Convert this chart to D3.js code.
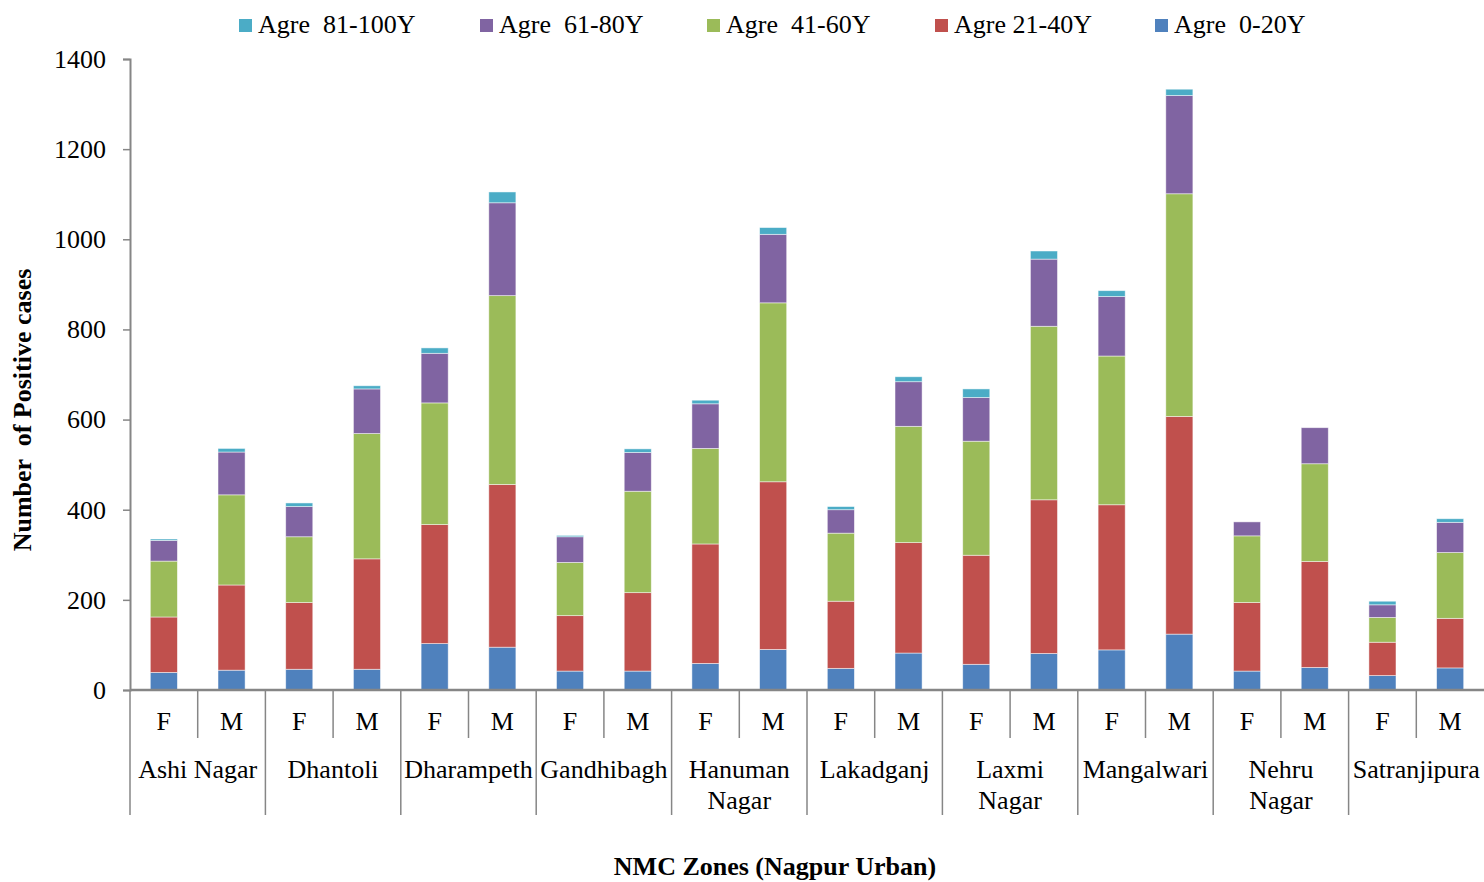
<!DOCTYPE html>
<html>
<head>
<meta charset="utf-8">
<script src="https://cdn.jsdelivr.net/npm/d3@7"></script>
<style>
  body { margin: 0; background: #fff; }
  text { font-family: "Liberation Serif", "Times New Roman", serif; fill: #000; }
</style>
</head>
<body>
<div id="chart"></div>
<script>
// zones, each split into F and M
var zones = ["Ashi Nagar", "Dhantoli", "Dharampeth", "Gandhibagh", "Hanuman Nagar",
  "Lakadganj", "Laxmi Nagar", "Mangalwari", "Nehru Nagar", "Satranjipura"];
var zoneLines = [["Ashi Nagar"], ["Dhantoli"], ["Dharampeth"], ["Gandhibagh"], ["Hanuman", "Nagar"],
  ["Lakadganj"], ["Laxmi", "Nagar"], ["Mangalwari"], ["Nehru", "Nagar"], ["Satranjipura"]];
var sexes = ["F", "M"];

// values per bar (F, M for each zone, in order)
var age0_20   = [39, 44, 46, 46, 103, 95, 42, 42, 59, 90, 48, 82, 57, 81, 89, 124, 42, 50, 32, 49];
var age21_40  = [123, 189, 148, 245, 264, 361, 123, 174, 265, 372, 149, 245, 242, 341, 322, 483, 152, 235, 74, 110];
var age41_60  = [124, 200, 146, 278, 270, 419, 118, 225, 212, 397, 151, 258, 253, 385, 330, 494, 148, 217, 55, 146];
var age61_80  = [46, 95, 67, 99, 110, 206, 57, 86, 99, 152, 52, 99, 97, 149, 132, 218, 31, 80, 28, 67];
var age81_100 = [3, 8, 8, 7, 12, 24, 3, 8, 8, 15, 7, 11, 19, 18, 13, 14, 0, 0, 8, 8];

var seriesKeys = ["a0", "a21", "a41", "a61", "a81"];
var seriesNames = {a0: "Agre  0-20Y", a21: "Agre 21-40Y", a41: "Agre  41-60Y", a61: "Agre  61-80Y", a81: "Agre  81-100Y"};
var legendOrder = ["a81", "a61", "a41", "a21", "a0"];
var yTicks = [0, 200, 400, 600, 800, 1000, 1200, 1400];

var colors = {a0: "#4F81BD", a21: "#C0504D", a41: "#9BBB59", a61: "#8064A2", a81: "#4BACC6"};

var svgW = 1484, svgH = 882;
var plotLeft = 130, plotRight = 1484, plotTop = 59, plotBottom = 690;

// build table
var data = [];
zones.forEach(function (z, zi) {
  sexes.forEach(function (s, si) {
    var i = zi * 2 + si;
    data.push({id: i, zone: z, sex: s, a0: age0_20[i], a21: age21_40[i], a41: age41_60[i], a61: age61_80[i], a81: age81_100[i]});
  });
});

var svg = d3.select("#chart").append("svg")
  .attr("width", svgW)
  .attr("height", svgH);

var xScale = d3.scaleBand()
  .domain(data.map(function (d) { return d.id; }))
  .range([plotLeft, plotRight])
  .paddingInner(0.6)
  .paddingOuter(0.3);

var yScale = d3.scaleLinear().domain([0, 1400]).range([plotBottom, plotTop]);

var stacked = d3.stack().keys(seriesKeys)(data);

// bars
svg.selectAll(".layer")
  .data(stacked)
  .enter().append("g")
  .attr("class", "layer")
  .attr("fill", function (d) { return colors[d.key]; })
  .selectAll("rect")
  .data(function (d) { return d.filter(function (p) { return p[1] > p[0]; }); })
  .enter().append("rect")
  .attr("x", function (d) { return xScale(d.data.id); })
  .attr("width", xScale.bandwidth())
  .attr("y", function (d) { return yScale(d[1]); })
  .attr("height", function (d) { return yScale(d[0]) - yScale(d[1]); })
  .attr("stroke", "#ffffff")
  .attr("stroke-opacity", 0.6)
  .attr("stroke-width", 0.8);

var axisColor = "#868686";

// y axis
var yAxis = svg.append("g")
  .attr("transform", "translate(" + plotLeft + ",0)")
  .call(d3.axisLeft(yScale).tickValues(yTicks).tickSize(7).tickPadding(17).tickFormat(d3.format("d")));
yAxis.select(".domain").attr("stroke", axisColor).attr("stroke-width", 2);
yAxis.selectAll(".tick line").attr("stroke", axisColor).attr("stroke-width", 1.5);
yAxis.selectAll(".tick text")
  .style("font-family", "'Liberation Serif', 'Times New Roman', serif")
  .style("font-size", "26px")
  .attr("fill", "#000");

// x axis line
svg.append("line")
  .attr("x1", plotLeft).attr("x2", plotRight)
  .attr("y1", plotBottom).attr("y2", plotBottom)
  .attr("stroke", axisColor).attr("stroke-width", 2.5);

var step = xScale.step();

// separators under the axis
d3.range(20).forEach(function (i) {
  var xb = plotLeft + i * step;
  var isZone = i % 2 === 0;
  svg.append("line")
    .attr("x1", xb).attr("x2", xb)
    .attr("y1", plotBottom).attr("y2", isZone ? 815 : 738)
    .attr("stroke", axisColor).attr("stroke-width", 1.5);
});

// F / M labels
svg.selectAll(".sexLabel")
  .data(data)
  .enter().append("text")
  .attr("class", "sexLabel")
  .attr("x", function (d) { return xScale(d.id) + xScale.bandwidth() / 2; })
  .attr("y", 730)
  .attr("text-anchor", "middle")
  .style("font-size", "26px")
  .text(function (d) { return d.sex; });

// zone labels
zoneLines.forEach(function (lines, zi) {
  var cx = plotLeft + (zi * 2 + 1) * step;
  lines.forEach(function (ln, li) {
    svg.append("text")
      .attr("x", cx)
      .attr("y", 778 + li * 31)
      .attr("text-anchor", "middle")
      .style("font-size", "26px")
      .text(ln);
  });
});

// axis titles
svg.append("text")
  .attr("transform", "translate(31," + 410 + ") rotate(-90)")
  .attr("text-anchor", "middle")
  .style("font-size", "26px")
  .style("font-weight", "bold")
  .style("white-space", "pre")
  .text("Number  of Positive cases");

svg.append("text")
  .attr("x", 775)
  .attr("y", 875)
  .attr("text-anchor", "middle")
  .style("font-size", "26px")
  .style("font-weight", "bold")
  .text("NMC Zones (Nagpur Urban)");

// legend
var legendX = [239, 480, 707, 935, 1155];
var legend = svg.selectAll(".legendItem")
  .data(legendOrder)
  .enter().append("g")
  .attr("class", "legendItem")
  .attr("transform", function (d, i) { return "translate(" + legendX[i] + ",0)"; });
legend.append("rect")
  .attr("x", 0).attr("y", 19)
  .attr("width", 13).attr("height", 13)
  .attr("fill", function (d) { return colors[d]; });
legend.append("text")
  .attr("x", 19)
  .attr("y", 33)
  .style("font-size", "26px")
  .style("white-space", "pre")
  .text(function (d) { return seriesNames[d]; });
</script>
</body>
</html>
